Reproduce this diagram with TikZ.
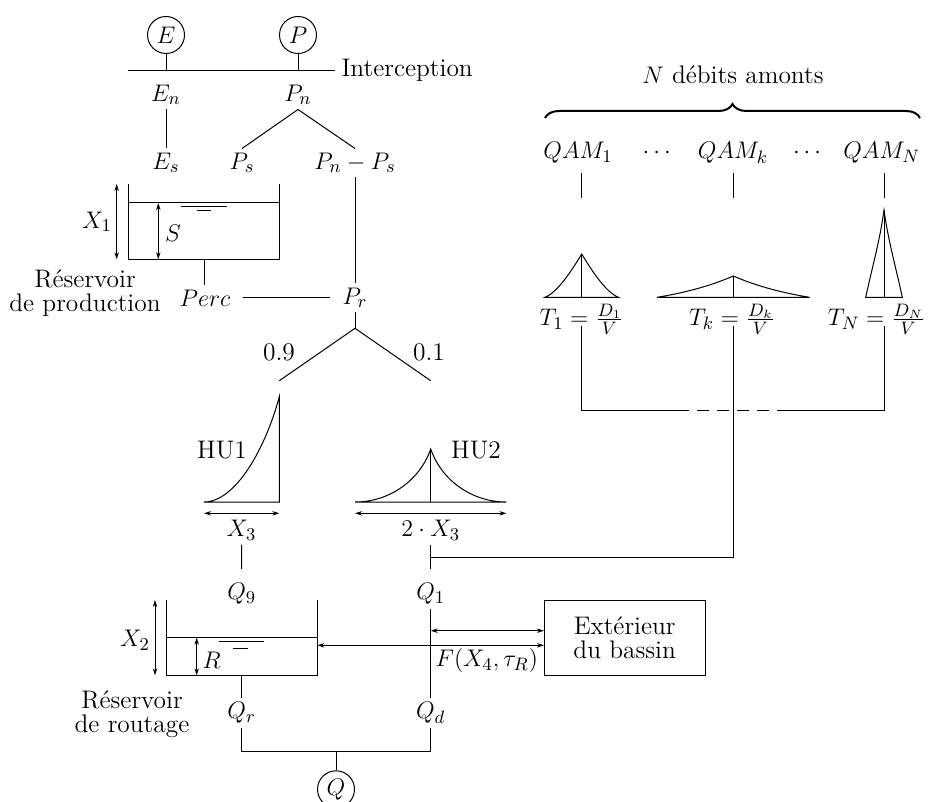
\documentclass[tikz,border=0pt]{standalone}
\usetikzlibrary{decorations.pathreplacing,arrows.meta}
\begin{document}
\begin{tikzpicture}[x=0.5pt,y=-0.5pt,
  font=\fontsize{12.7}{12}\selectfont, line width=0.5pt,
  txt/.style={inner sep=2pt},
  arr/.style={{Stealth[length=3.5pt,width=2.2pt]}-{Stealth[length=3.5pt,width=2.2pt]}, line width=0.35pt},
  circ/.style={circle,draw,minimum size=18.5pt,inner sep=0pt},
  thinl/.style={line width=0.45pt}]
\useasboundingbox (0,0) rectangle (929,801);

% ---------- top: interception ----------
\node[circ] (E) at (166,35) {$E$};
\node[circ] (P) at (298,35) {$P$};
\coordinate (il) at (128,70.7);
\coordinate (ir) at (335,70.7);
\draw (il) -- (ir);
\node[anchor=west,inner sep=3pt] (int) at (ir) {Interception};
\draw (E) -- (E |- il);
\draw (P) -- (P |- il);
\node[txt] (En) at (166,95) {$E_n$};
\node[txt] (Pn) at (298,95) {$P_n$};
\node[txt] (Es) at (166,163) {$E_s$};
\node[txt] (Ps) at (242,163) {$P_s$};
\node[txt] (PnPs) at (355,163) {$P_n - P_s$};
\draw (En.south) -- (Es.north);
\draw (Ps.north) -- (Pn.south) -- (PnPs.north);

% ---------- production reservoir ----------
\draw (128,184) -- (128,259.3) -- (279.3,259.3) -- (279.3,184);
\draw (128,203) -- (279.3,203);
\draw[thinl] (180.7,206.7) -- (226.7,206.7);
\draw[thinl] (196.7,210.7) -- (210.7,210.7);
\draw[arr] (116.7,184) -- (116.7,259.3);
\node[txt] (X1) at (97,222) {$X_1$};
\draw[arr] (158.3,203) -- (158.3,259.3);
\node[txt] (S) at (173,233) {$S$};
\node[align=center,inner sep=0pt] (rp) at (85,293) {Réservoir\\de production};
\coordinate (r1b) at (204.3,259.3);

\node[txt] (Perc) at (205,298) {$Perc$};
\node[txt] (Pr) at (355,298) {$P_r$};
\draw (r1b) -- (r1b |- Perc.north);
\draw (PnPs.south) -- (Pr.north);
\draw[shorten <=4pt,shorten >=4pt] (Perc.east) -- (Pr.west);

% ---------- split 0.9 / 0.1 ----------
\coordinate (prs) at (355,328.3);
\coordinate (sl) at (279.3,380.7);
\coordinate (sr) at (430.7,380.7);
\draw (Pr.south) -- (prs);
\draw (sl) -- (prs) -- (sr);
\node[txt] (n09) at (279,352) {0.9};
\node[txt] (n01) at (429,352) {0.1};

% ---------- HU1 ----------
\draw (204,502) .. controls (235,502) and (265,450) .. (279.3,396.7) -- (279.3,502) -- cycle;
\node[txt] (HU1) at (222,450) {HU1};
\draw[arr] (204,513.3) -- (279.3,513.3);
\node[txt] (X3) at (241.5,530) {$X_3$};
\node[txt] (Q9) at (241.7,594) {$Q_9$};
\draw[shorten >=5pt] (X3.south) -- (Q9.north);

% ---------- HU2 ----------
\draw (355,502) .. controls (390,502) and (420,480) .. (430.7,449)
      .. controls (441.4,480) and (471.4,502) .. (506.4,502) -- cycle;
\draw (430.7,449) -- (430.7,502);
\node[txt] (HU2) at (476,450) {HU2};
\draw[arr] (355,513.3) -- (506.4,513.3);
\node[txt] (X32) at (430.7,530) {$2\cdot X_3$};
\node[txt] (Q1) at (430.7,594) {$Q_1$};
\draw[shorten >=5pt] (X32.south) -- (Q1.north);

% ---------- upstream flows ----------
\node[txt] (Nlab) at (733,75) {$N$ débits amonts};
\draw[decorate,decoration={brace,amplitude=7pt},line width=1pt] (545,118) -- (920,118);
\node[txt] (QAM1) at (578,153) {$QAM_1$};
\node[txt] (d1) at (656.7,153) {$\cdots$};
\node[txt] (QAMk) at (733,153) {$QAM_k$};
\node[txt] (d2) at (807,153) {$\cdots$};
\node[txt] (QAMN) at (881.7,153) {$QAM_N$};
\coordinate (qa1) at (581.7,173); \coordinate (qb1) at (581.7,198);
\coordinate (qak) at (733.3,173); \coordinate (qbk) at (733.3,198);
\coordinate (qaN) at (884,173);  \coordinate (qbN) at (884,198);
\draw (qa1) -- (qb1);
\draw (qak) -- (qbk);
\draw (qaN) -- (qbN);

% hydrographs
\draw (545,297.3) .. controls (558,292) and (572,270) .. (581.7,254)
      .. controls (591.4,270) and (605.4,292) .. (618.4,297.3) -- cycle;
\draw (581.7,254) -- (581.7,297.3);
\draw (657,297.3) .. controls (690,292) and (715,284) .. (733.3,276)
      .. controls (751.6,284) and (776.6,292) .. (809.6,297.3) -- cycle;
\draw (733.3,276) -- (733.3,297.3);
\draw (865.7,297.3) .. controls (872,268) and (880,240) .. (884,210)
      .. controls (888,240) and (896,268) .. (902.3,297.3) -- cycle;
\draw (884,210) -- (884,297.3);

\node[txt] (T1) at (581.5,319) {$T_1 = \frac{D_1}{V}$};
\node[txt] (Tk) at (732,319) {$T_k = \frac{D_k}{V}$};
\node[txt] (TN) at (876.5,319) {$T_N = \frac{D_N}{V}$};

\coordinate (t1c) at (581.7,326);
\coordinate (tkc) at (733.3,326);
\coordinate (tNc) at (884,326);
\coordinate (b1) at (581.7,410.7);
\coordinate (b2) at (884,410.7);
\coordinate (bd1) at (689,410.7);
\coordinate (bd2) at (777,410.7);
\draw (t1c) -- (b1) -- (bd1);
\draw[dash pattern=on 6pt off 4pt,dash phase=6pt] (bd1) -- (bd2);
\draw (bd2) -- (b2) -- (tNc);
\coordinate (j1) at (430.7,557.7);
\coordinate (j2) at (733.3,557.7);
\draw (j1) -- (j2) -- (tkc);

% ---------- routing reservoir ----------
\draw (166,600) -- (166,675.3) -- (317.3,675.3) -- (317.3,600);
\draw (166,637.7) -- (317.3,637.7);
\draw[thinl] (219,641.7) -- (264,641.7);
\draw[thinl] (233,648) -- (248,648);
\draw[arr] (155,600) -- (155,675.3);
\node[txt] (X2) at (135,640) {$X_2$};
\draw[arr] (196.7,637.7) -- (196.7,675.3);
\node[txt] (R) at (211.7,660) {$R$};
\node[align=center,inner sep=0pt] (rr) at (132,714) {Réservoir\\de routage};

\node[draw,minimum width=80.3pt,minimum height=37.5pt,inner sep=0pt,align=center] (ext) at (624.7,637.5) {Extérieur\\du bassin};
\coordinate (q1a) at (430.7,630.7);
\coordinate (rw) at (317.3,645.3);
\draw[arr] (q1a) -- (ext.west |- q1a);
\draw[arr] (rw) -- (ext.west |- rw);
\node[txt] (F) at (486.7,660.7) {$F(X_4,\tau_R)$};

\node[txt] (Qr) at (241.7,713) {$Q_r$};
\node[txt] (Qd) at (430.7,713) {$Q_d$};
\coordinate (r2b) at (241.7,675.3);
\draw (r2b) -- (Qr.north);
\draw (Q1.south) -- (Qd.north);
\coordinate (ql) at (241.7,751);
\coordinate (qr) at (430.7,751);
\coordinate (jq) at (336,751);
\draw (Qr.south) -- (ql) -- (qr) -- (Qd.south);
\node[circ] (Q) at (336,789.3) {$Q$};
\draw (jq) -- (Q.north);
\end{tikzpicture}
\end{document}
